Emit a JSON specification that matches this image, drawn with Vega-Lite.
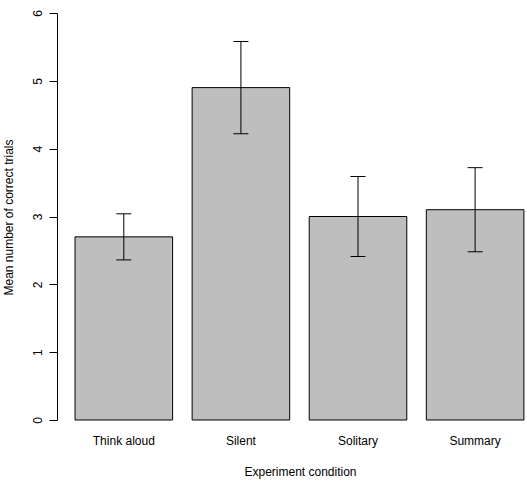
{
  "$schema": "https://vega.github.io/schema/vega-lite/v6.json",
  "width": 470,
  "height": 407,
  "autosize": {"type": "none"},
  "padding": {"left": 57, "top": 13, "right": 0, "bottom": 62},
  "background": "white",
  "config": {
    "view": {"stroke": null},
    "font": "Liberation Sans",
    "axis": {"grid": false}
  },
  "data": {
    "values": [
      {"condition": "Think aloud", "mean": 2.7, "lower": 2.36, "upper": 3.04},
      {"condition": "Silent", "mean": 4.9, "lower": 4.22, "upper": 5.58},
      {"condition": "Solitary", "mean": 3.0, "lower": 2.41, "upper": 3.59},
      {"condition": "Summary", "mean": 3.1, "lower": 2.48, "upper": 3.72}
    ]
  },
  "encoding": {
    "x": {
      "field": "condition",
      "type": "nominal",
      "sort": null,
      "scale": {"paddingInner": 0.1667, "paddingOuter": 0.0902, "align": 0.853},
      "axis": {
        "title": "Experiment condition",
        "domain": false,
        "ticks": false,
        "tickSize": 0,
        "labelAngle": 0,
        "labelFontSize": 12,
        "labelColor": "#000000",
        "labelPadding": 15,
        "labelBaseline": "top",
        "titleFontSize": 12,
        "titleFontWeight": "normal",
        "titleColor": "#000000",
        "titleX": 243,
        "titleY": 51,
        "titleBaseline": "middle",
        "titleAlign": "center"
      }
    }
  },
  "layer": [
    {
      "mark": {"type": "bar", "fill": "#bebebe", "stroke": "#000000", "strokeWidth": 1},
      "encoding": {
        "y": {
          "field": "mean",
          "type": "quantitative",
          "scale": {"domain": [0, 6], "nice": false, "zero": true},
          "axis": {
            "title": "Mean number of correct trials",
            "values": [0, 1, 2, 3, 4, 5, 6],
            "format": "d",
            "tickSize": 8,
            "tickColor": "#000000",
            "domainColor": "#000000",
            "labelAngle": 270,
            "labelAlign": "center",
            "labelBaseline": "middle",
            "labelPadding": 12,
            "labelFontSize": 12,
            "labelColor": "#000000",
            "titleFontSize": 12,
            "titleFontWeight": "normal",
            "titleColor": "#000000",
            "titleAngle": 270,
            "titleAlign": "center",
            "titleBaseline": "middle",
            "titleX": -49,
            "titleY": 204
          }
        }
      }
    },
    {
      "mark": {"type": "rule", "color": "#000000", "strokeWidth": 1},
      "encoding": {
        "y": {"field": "lower", "type": "quantitative"},
        "y2": {"field": "upper"}
      }
    },
    {
      "mark": {"type": "tick", "orient": "horizontal", "size": 15, "thickness": 1, "color": "#000000", "opacity": 1},
      "encoding": {
        "y": {"field": "upper", "type": "quantitative"}
      }
    },
    {
      "mark": {"type": "tick", "orient": "horizontal", "size": 15, "thickness": 1, "color": "#000000", "opacity": 1},
      "encoding": {
        "y": {"field": "lower", "type": "quantitative"}
      }
    }
  ]
}
